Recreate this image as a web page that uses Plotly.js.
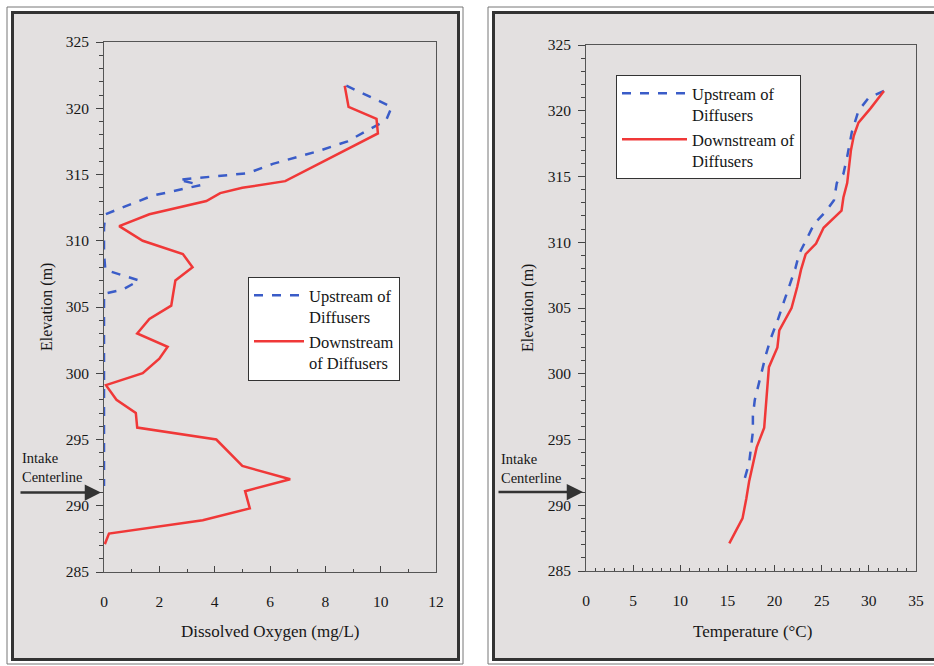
<!DOCTYPE html>
<html>
<head>
<meta charset="utf-8">
<script src="https://cdn.plot.ly/plotly-3.0.1.min.js"></script>
<style>html,body{margin:0;padding:0;background:#fff;}#chart{width:934px;height:666px;}</style>
</head>
<body>
<div id="chart"></div>
<script>
// ---- Data ----
// Left panel: dissolved oxygen (mg/L) vs elevation (m)
var doDownX = [8.7, 8.84, 9.85, 9.9, 6.55, 5.0, 4.2, 3.7, 1.64, 0.55, 1.4, 2.85, 3.2, 2.58, 2.5, 2.43, 1.64, 1.2, 2.3, 2.0, 1.4, 0.07, 0.45, 1.15, 1.2, 4.06, 5.0, 6.73, 5.1, 5.27, 3.57, 0.18, 0.03];
var doDownY = [321.7, 320.1, 319.2, 318.1, 314.5, 314.0, 313.6, 313.0, 312.0, 311.1, 310.0, 309.0, 308.0, 307.0, 306.0, 305.1, 304.1, 303.0, 302.0, 301.1, 300.0, 299.1, 298.0, 297.0, 295.9, 295.0, 293.0, 292.0, 291.1, 289.8, 288.9, 287.9, 287.1];
var doUpX = [8.76, 10.4, 10.2, 8.8, 7.8, 6.1, 5.2, 2.7, 3.5, 1.75, 0.05, 0, 0, 0, 0.05, 1.27, 0.66, 0, 0, 0, 0, 0, 0, 0, 0, 0, 0, 0, 0, 0, 0, 0, 0];
var doUpY = [321.7, 320.1, 319.1, 317.5, 316.8, 315.8, 315.1, 314.6, 314.2, 313.4, 312.0, 311.0, 310.0, 309.0, 307.8, 307.0, 306.3, 306.0, 305.0, 304.0, 303.0, 302.0, 301.0, 300.0, 299.0, 298.0, 297.0, 296.0, 295.0, 294.0, 293.0, 292.0, 291.5];
// Right panel: temperature (°C) vs elevation (m)
var tDownX = [31.6, 30.2, 28.9, 28.4, 28.1, 27.7, 27.3, 27.1, 25.2, 24.4, 23.3, 22.8, 22.4, 21.8, 20.5, 20.3, 19.4, 19.2, 18.9, 18.1, 17.6, 17.3, 17.0, 16.6, 15.2];
var tDownY = [321.5, 320.2, 319.1, 318.1, 317.0, 314.5, 313.4, 312.4, 311.1, 309.9, 309.1, 307.9, 306.6, 305.0, 303.3, 302.0, 300.5, 298.5, 295.9, 294.4, 292.8, 291.8, 290.5, 289.0, 287.1];
var tUpX = [31.6, 30.0, 28.9, 28.2, 27.7, 27.3, 26.6, 26.3, 25.5, 24.2, 23.3, 22.6, 22.2, 21.5, 21.0, 20.3, 19.6, 19.1, 18.7, 18.3, 17.9, 17.7, 17.7, 17.5, 17.3, 16.7];
var tUpY = [321.5, 321.0, 320.0, 318.4, 316.5, 315.2, 314.5, 313.2, 312.4, 311.4, 310.1, 309.1, 308.0, 306.6, 305.5, 304.0, 302.7, 301.5, 300.4, 299.2, 298.0, 296.8, 295.6, 294.4, 293.2, 291.7];
var upName = "Upstream of<br>Diffusers";
var downNameLeft = "Downstream<br>of Diffusers";
var downNameRight = "Downstream of<br>Diffusers";
var xTitleLeft = "Dissolved Oxygen (mg/L)";
var xTitleRight = "Temperature (°C)";
var yTitle = "Elevation (m)";
var intakeLabel = "Intake<br>Centerline";
var intakeElev = 291;

// ---- Layout helpers ----
var W = 934, H = 666;
function px(x){ return x / W; }
function py(y){ return 1 - y / H; }
var SERIF = "Liberation Serif, Times New Roman, serif";
var RED = "#f03838", BLUE = "#3a5cc8";
var PANEL = "#e3e0e0";
var TXT = "#161616";

var traces = [
  {x: doUpX, y: doUpY, xaxis: "x", yaxis: "y", mode: "lines", name: upName, legend: "legend",
   line: {color: BLUE, width: 2.5, dash: "dash"}},
  {x: doDownX, y: doDownY, xaxis: "x", yaxis: "y", mode: "lines", name: downNameLeft, legend: "legend",
   line: {color: RED, width: 2.5}},
  {x: tUpX, y: tUpY, xaxis: "x2", yaxis: "y2", mode: "lines", name: upName, legend: "legend2",
   line: {color: BLUE, width: 2.5, dash: "dash"}},
  {x: tDownX, y: tDownY, xaxis: "x2", yaxis: "y2", mode: "lines", name: downNameRight, legend: "legend2",
   line: {color: RED, width: 2.5}}
];

function yAxis(dom, anchor){
  return {domain: dom, anchor: anchor, range: [285, 325], dtick: 5, tick0: 285,
    ticks: "outside", ticklen: 7, tickcolor: "#444", tickwidth: 1,
    minor: {dtick: 1, ticks: "outside", ticklen: 4, tickcolor: "#444"},
    showline: true, linecolor: "#555", linewidth: 1, mirror: true,
    showgrid: false, zeroline: false, ticklabelstandoff: 4,
    tickfont: {family: SERIF, size: 15.5, color: TXT}, fixedrange: true};
}
function xAxis(dom, anchor, rng, dt){
  return {domain: dom, anchor: anchor, range: rng, dtick: dt, tick0: 0,
    ticks: "inside", ticklen: 6, tickcolor: "#444", tickwidth: 1,
    minor: {dtick: 1, ticks: "inside", ticklen: 3, tickcolor: "#444"},
    showline: true, linecolor: "#555", linewidth: 1, mirror: true,
    showgrid: false, zeroline: false, ticklabelstandoff: 15,
    tickfont: {family: SERIF, size: 15.5, color: TXT}, fixedrange: true};
}

var layout = {
  width: W, height: H, autosize: false,
  margin: {l: 0, r: 0, t: 0, b: 0, pad: 0},
  paper_bgcolor: "#ffffff", plot_bgcolor: "#ffffff",
  xaxis: xAxis([px(104), px(436)], "y", [0, 12], 2),
  yaxis: yAxis([py(572), py(42)], "x"),
  xaxis2: xAxis([px(586), px(916)], "y2", [0, 35], 5),
  yaxis2: yAxis([py(571), py(45)], "x2"),
  showlegend: true,
  legend: {x: px(248), y: py(277), xanchor: "left", yanchor: "top", bgcolor: "#ffffff",
    bordercolor: "#333", borderwidth: 1, font: {family: SERIF, size: 16.5, color: TXT},
    valign: "top", tracegroupgap: 0, itemwidth: 50, itemclick: false, itemdoubleclick: false},
  legend2: {x: px(616), y: py(75), xanchor: "left", yanchor: "top", bgcolor: "#ffffff",
    bordercolor: "#333", borderwidth: 1, font: {family: SERIF, size: 16.5, color: TXT},
    valign: "top", tracegroupgap: 0, itemwidth: 65, itemclick: false, itemdoubleclick: false},
  shapes: [
    {type: "rect", xref: "paper", yref: "paper", layer: "below",
     x0: px(7), x1: px(463), y0: py(664), y1: py(7), line: {color: "#777", width: 1}, fillcolor: "rgba(0,0,0,0)"},
    {type: "rect", xref: "paper", yref: "paper", layer: "below",
     x0: px(12.5), x1: px(458.5), y0: py(659.5), y1: py(12.5), line: {color: "#333", width: 3}, fillcolor: PANEL},
    {type: "rect", xref: "paper", yref: "paper", layer: "below",
     x0: px(488), x1: px(945), y0: py(664), y1: py(7), line: {color: "#777", width: 1}, fillcolor: "rgba(0,0,0,0)"},
    {type: "rect", xref: "paper", yref: "paper", layer: "below",
     x0: px(493.5), x1: px(945), y0: py(659.5), y1: py(12.5), line: {color: "#333", width: 3}, fillcolor: PANEL}
  ],
  annotations: [
    {xref: "paper", yref: "paper", x: px(270), y: py(631), text: xTitleLeft, showarrow: false,
     font: {family: SERIF, size: 17, color: TXT}, xanchor: "center", yanchor: "middle"},
    {xref: "paper", yref: "paper", x: px(752), y: py(631), text: xTitleRight, showarrow: false,
     font: {family: SERIF, size: 17, color: TXT}, xanchor: "center", yanchor: "middle"},
    {xref: "paper", yref: "paper", x: px(47), y: py(307), text: yTitle, showarrow: false, textangle: -90,
     font: {family: SERIF, size: 16, color: TXT}, xanchor: "center", yanchor: "middle"},
    {xref: "paper", yref: "paper", x: px(528), y: py(308), text: yTitle, showarrow: false, textangle: -90,
     font: {family: SERIF, size: 16, color: TXT}, xanchor: "center", yanchor: "middle"},
    {xref: "paper", yref: "paper", x: px(20), y: py(467), text: intakeLabel, showarrow: false, align: "left",
     font: {family: SERIF, size: 14.5, color: TXT}, xanchor: "left", yanchor: "middle"},
    {xref: "paper", yref: "paper", x: px(499), y: py(469), text: intakeLabel, showarrow: false, align: "left",
     font: {family: SERIF, size: 14.5, color: TXT}, xanchor: "left", yanchor: "middle"},
    {xref: "paper", yref: "y", x: px(101), y: intakeElev, ax: -82, ay: 0, text: "", showarrow: true,
     arrowhead: 2, arrowsize: 1.3, arrowwidth: 2.5, arrowcolor: "#333"},
    {xref: "paper", yref: "y2", x: px(583), y: intakeElev, ax: -86, ay: 0, text: "", showarrow: true,
     arrowhead: 2, arrowsize: 1.3, arrowwidth: 2.5, arrowcolor: "#333"}
  ]
};

Plotly.newPlot("chart", traces, layout, {displayModeBar: false, staticPlot: true});
</script>
</body>
</html>
